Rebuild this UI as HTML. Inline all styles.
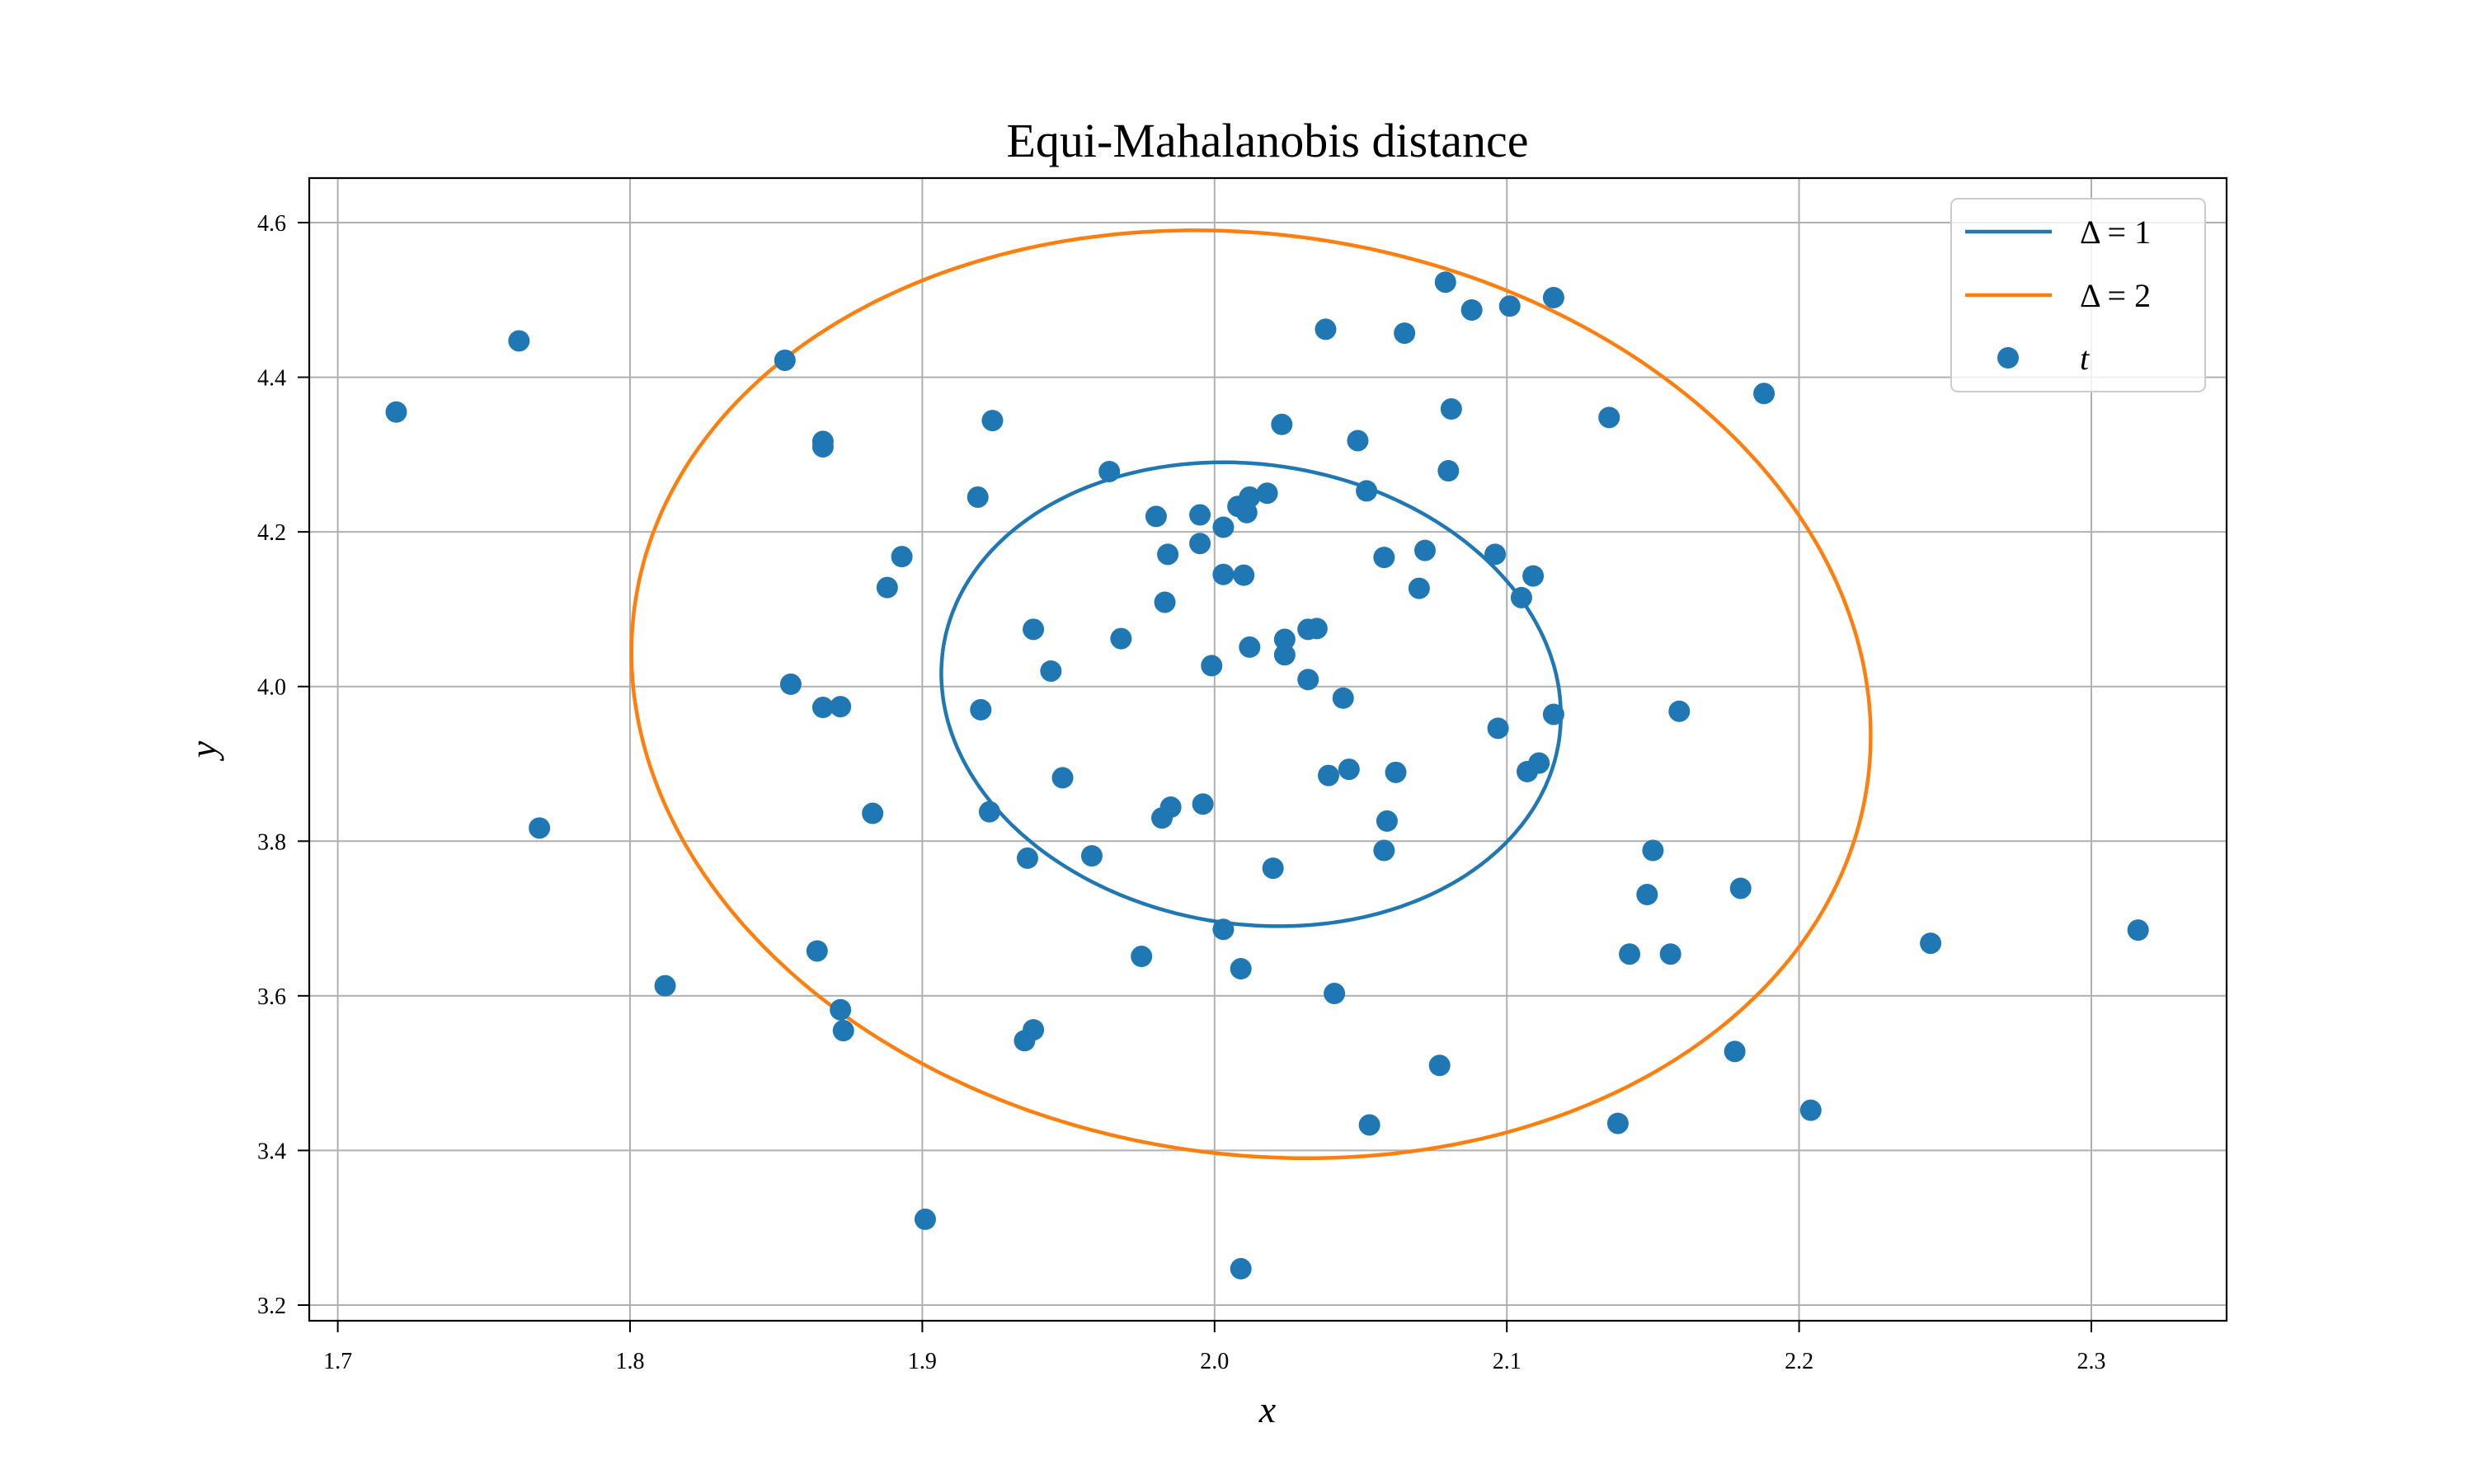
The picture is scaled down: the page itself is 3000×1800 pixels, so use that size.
<!DOCTYPE html>
<html><head><meta charset="utf-8"><style>
body{margin:0;background:#fff}
svg{display:block}
text{font-family:"Liberation Serif",serif;fill:#000}
</style></head><body>
<svg id="chart" width="3000" height="1800" xmlns="http://www.w3.org/2000/svg">
<rect width="3000" height="1800" fill="#fff"/>
<g id="grid"></g>
<g id="ellipses"></g>
<g id="points"></g>
<rect x="375" y="216" width="2325" height="1386" fill="none" stroke="#000" stroke-width="2.2"/>
<g id="ticks"></g>
<text x="1537" y="190" font-size="58" text-anchor="middle">Equi-Mahalanobis distance</text>
<text x="1537" y="1725" font-size="46" font-style="italic" text-anchor="middle">x</text>
<text x="262" y="909" font-size="46" font-style="italic" text-anchor="middle" transform="rotate(-90 262 909)">y</text>
<g>
<rect x="2366" y="241" width="308" height="234" rx="8" fill="#fff" fill-opacity="0.8" stroke="#ccc" stroke-width="2"/>
<line x1="2383" y1="281" x2="2488" y2="281" stroke="#1f77b4" stroke-width="4.5"/>
<text x="2522" y="295" font-size="40">Δ = 1</text>
<line x1="2383" y1="358" x2="2488" y2="358" stroke="#ff7f0e" stroke-width="4.5"/>
<text x="2522" y="372" font-size="40">Δ = 2</text>
<circle cx="2435" cy="434" r="13" fill="#1f77b4"/>
<text x="2522" y="448" font-size="40" font-style="italic">t</text>
</g>
</svg>
<script>
const xTicks=[1.7,1.8,1.9,2.0,2.1,2.2,2.3];
const yTicks=[3.2,3.4,3.6,3.8,4.0,4.2,4.4,4.6];
const deltas=[1,2];
const deltaColors=['#1f77b4','#ff7f0e'];
const mu=[2.0125,3.99];
const sigma=[0.106,0.30];
const rho=-0.09;
const px=[1.72,1.762,1.769,1.812,1.853,1.855,1.864,1.866,1.866,1.866,1.872,1.872,1.873,1.883,1.888,1.893,1.901,1.919,1.92,1.923,1.924,1.935,1.936,1.938,1.938,1.944,1.948,1.958,1.964,1.968,1.975,1.98,1.982,1.983,1.984,1.985,1.995,1.995,1.996,1.999,2.003,2.003,2.003,2.008,2.009,2.009,2.01,2.011,2.012,2.012,2.018,2.02,2.023,2.024,2.024,2.032,2.032,2.035,2.038,2.039,2.041,2.044,2.046,2.049,2.052,2.053,2.058,2.058,2.059,2.062,2.065,2.07,2.072,2.077,2.079,2.08,2.081,2.088,2.096,2.097,2.101,2.105,2.107,2.109,2.111,2.116,2.116,2.135,2.138,2.142,2.148,2.15,2.156,2.159,2.178,2.18,2.188,2.204,2.245,2.316];
const py=[4.355,4.447,3.817,3.613,4.422,4.003,3.658,4.317,4.31,3.973,3.974,3.582,3.555,3.836,4.128,4.168,3.311,4.245,3.97,3.838,4.344,3.542,3.778,3.556,4.074,4.02,3.882,3.781,4.278,4.062,3.651,4.22,3.83,4.109,4.171,3.844,4.222,4.185,3.848,4.027,4.145,4.206,3.686,4.233,3.635,3.247,4.144,4.225,4.051,4.245,4.25,3.765,4.339,4.061,4.041,4.009,4.074,4.075,4.462,3.885,3.603,3.985,3.893,4.318,4.253,3.433,4.167,3.788,3.826,3.889,4.457,4.127,4.176,3.51,4.523,4.279,4.359,4.487,4.171,3.946,4.492,4.115,3.89,4.143,3.901,3.964,4.503,4.348,3.435,3.654,3.731,3.788,3.654,3.968,3.528,3.739,4.379,3.452,3.668,3.685];
const X=v=>409.6+(v-1.7)*(2536-409.6)/0.6;
const Y=v=>270+(4.6-v)*(1583-270)/1.4;
const NS='http://www.w3.org/2000/svg';
function mk(tag,attrs,parent){const e=document.createElementNS(NS,tag);for(const k in attrs)e.setAttribute(k,attrs[k]);parent.appendChild(e);return e;}
const grid=document.getElementById('grid'),ticks=document.getElementById('ticks');
xTicks.forEach(t=>{
 const g=mk('line',{x1:X(t),x2:X(t),y1:216,y2:1602,stroke:'#b0b0b0','stroke-width':2},grid);
 
 
 const tk=mk('line',{x1:X(t),x2:X(t),y1:1602,y2:1616,stroke:'#000','stroke-width':2},ticks);
 
 
 const l=mk('text',{x:X(t),y:1660,'font-size':28,'text-anchor':'middle'},ticks);
 l.textContent=t.toFixed(1);
 
 
});
yTicks.forEach(t=>{
 const g=mk('line',{x1:375,x2:2700,y1:Y(t),y2:Y(t),stroke:'#b0b0b0','stroke-width':2},grid);
 
 
 const tk=mk('line',{x1:361,x2:375,y1:Y(t),y2:Y(t),stroke:'#000','stroke-width':2},ticks);
 
 
 const l=mk('text',{x:347,y:Y(t)+10,'font-size':28,'text-anchor':'end'},ticks);
 l.textContent=t.toFixed(1);
 
 
});
const eg=document.getElementById('ellipses');
deltas.forEach((d,i)=>{
 let pts=[];
 const s=Math.sqrt(1-rho*rho);
 for(let k=0;k<=360;k++){const a=k*Math.PI/180;
  const u=Math.cos(a),w=Math.sin(a);
  const dx=d*sigma[0]*u, dy=d*sigma[1]*(rho*u+s*w);
  pts.push(X(mu[0]+dx).toFixed(1)+','+Y(mu[1]+dy).toFixed(1));}
 const p=mk('polyline',{points:pts.join(' '),fill:'none',stroke:deltaColors[i],'stroke-width':4.5},eg);
 
 
});
const pg=document.getElementById('points');
px.forEach((x,i)=>{
 const c=mk('circle',{cx:X(x),cy:Y(py[i]),r:13,fill:'#1f77b4'},pg);
 
 
});
</script>
</body></html>
